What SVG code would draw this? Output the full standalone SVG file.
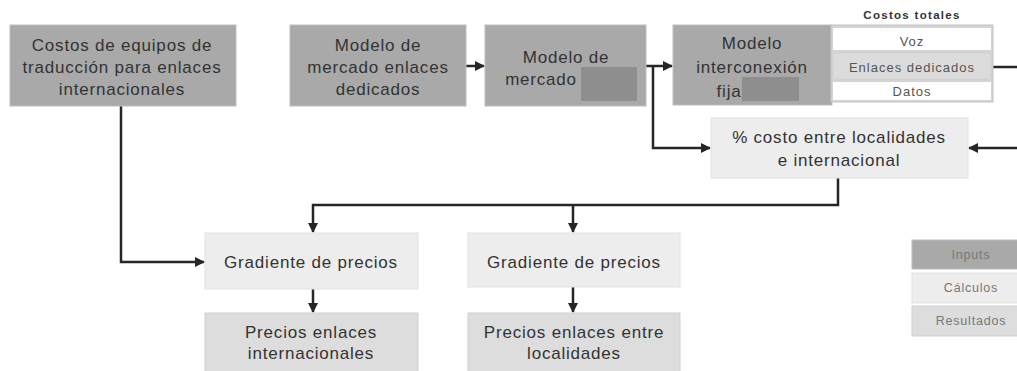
<svg xmlns="http://www.w3.org/2000/svg" width="1017" height="371" viewBox="0 0 1017 371">
<style>
.inp{fill:#a9a9a9;stroke:#bdbdbd;stroke-width:1}
.calc{fill:#ededed;stroke:#e2e2e2;stroke-width:1}
.res{fill:#dddddd;stroke:#d0d0d0;stroke-width:1}
.dark{fill:#8e8e8e}
.t{font-family:"Liberation Sans",Arial,sans-serif;font-size:17px;letter-spacing:0.8px;fill:#333;text-anchor:middle}
.s{font-family:"Liberation Sans",Arial,sans-serif;font-size:13px;letter-spacing:1px;fill:#555;text-anchor:middle}
.lg{font-family:"Liberation Sans",Arial,sans-serif;font-size:12.5px;letter-spacing:0.8px;fill:#777;text-anchor:middle}
.c{fill:none;stroke:#262626;stroke-width:2.5}
</style>
<defs>
<marker id="ah" viewBox="0 0 10 10" refX="9" refY="5" markerWidth="4" markerHeight="4" orient="auto" markerUnits="strokeWidth">
<path d="M0,0 L10,5 L0,10 z" fill="#262626"/>
</marker>
</defs>
<rect width="1017" height="371" fill="#fff"/>
<g id="connectors">
<path class="c" d="M466,66 H484" marker-end="url(#ah)"/>
<path class="c" d="M645,66 H672" marker-end="url(#ah)"/>
<path class="c" d="M653,66 V148 H710" marker-end="url(#ah)"/>
<path class="c" d="M1017,67 H993"/>
<path class="c" d="M1017,148 H969" marker-end="url(#ah)"/>
<path class="c" d="M838,178 V205 H313 V232" marker-end="url(#ah)"/>
<path class="c" d="M573,205 V232" marker-end="url(#ah)"/>
<path class="c" d="M121,106 V262 H204" marker-end="url(#ah)"/>
<path class="c" d="M313,289 V312" marker-end="url(#ah)"/>
<path class="c" d="M573,287 V312" marker-end="url(#ah)"/>
</g>
<g id="n_costos_equipos">
<rect class="inp" x="10" y="25" width="226" height="81"/>
<text class="t" x="122" y="51">Costos de equipos de</text>
<text class="t" x="122" y="73">traducción para enlaces</text>
<text class="t" x="122" y="95">internacionales</text>
</g>
<g id="n_modelo_mercado_enlaces">
<rect class="inp" x="290" y="25" width="176" height="81"/>
<text class="t" x="378" y="51">Modelo de</text>
<text class="t" x="378" y="73">mercado enlaces</text>
<text class="t" x="378" y="95">dedicados</text>
</g>
<g id="n_modelo_mercado">
<rect class="inp" x="485" y="25" width="161" height="81"/>
<rect class="dark" x="581" y="67" width="56" height="34"/>
<text class="t" x="566" y="63">Modelo de</text>
<text class="t" x="541" y="85">mercado</text>
</g>
<g id="n_modelo_interconexion">
<rect class="inp" x="673" y="25" width="159" height="80"/>
<rect class="dark" x="742" y="77" width="57" height="24"/>
<text class="t" x="752" y="49">Modelo</text>
<text class="t" x="752" y="73">interconexión</text>
<text class="t" x="729" y="97">fija</text>
</g>
<g id="n_costos_totales">
<text x="912" y="19" style="font-family:'Liberation Sans',Arial,sans-serif;font-size:11.5px;font-weight:bold;letter-spacing:1.3px;fill:#333;text-anchor:middle">Costos totales</text>
<rect x="831" y="25" width="162" height="77" fill="#d4d4d4" stroke="#c4c4c4"/>
<rect x="833" y="28" width="158" height="22" fill="#fff"/>
<rect x="833" y="53" width="158" height="26" fill="#dcdcdc" stroke="#cacaca" stroke-dasharray="1,1"/>
<rect x="833" y="82" width="158" height="18" fill="#fff"/>
<text class="s" x="912" y="46">Voz</text>
<text class="s" x="912" y="72">Enlaces dedicados</text>
<text class="s" x="912" y="96">Datos</text>
</g>
<g id="n_porcentaje">
<rect class="calc" x="711" y="118" width="257" height="60"/>
<text class="t" x="839" y="143">% costo entre localidades</text>
<text class="t" x="839" y="166">e internacional</text>
</g>
<g id="n_gradiente_1">
<rect class="calc" x="205" y="233" width="213" height="56"/>
<text class="t" x="311" y="268">Gradiente de precios</text>
</g>
<g id="n_gradiente_2">
<rect class="calc" x="468" y="233" width="212" height="54"/>
<text class="t" x="574" y="268">Gradiente de precios</text>
</g>
<g id="n_precios_int">
<rect class="res" x="205" y="313" width="213" height="60"/>
<text class="t" x="311" y="338">Precios enlaces</text>
<text class="t" x="311" y="359">internacionales</text>
</g>
<g id="n_precios_loc">
<rect class="res" x="468" y="313" width="212" height="60"/>
<text class="t" x="574" y="338">Precios enlaces entre</text>
<text class="t" x="574" y="359">localidades</text>
</g>
<g id="legend">
<rect class="inp" x="912" y="240" width="118" height="29"/>
<rect class="calc" x="912" y="273" width="118" height="30"/>
<rect class="res" x="912" y="306" width="118" height="30"/>
<text class="lg" x="971" y="259">Inputs</text>
<text class="lg" x="971" y="292">Cálculos</text>
<text class="lg" x="971" y="325">Resultados</text>
</g>
</svg>
